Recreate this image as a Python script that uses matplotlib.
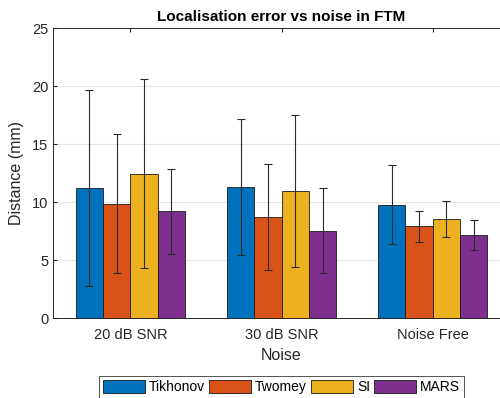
import matplotlib.pyplot as plt
import numpy as np

plt.rcParams['font.family'] = ['Liberation Sans', 'DejaVu Sans']

groups = ['20 dB SNR', '30 dB SNR', 'Noise Free']
methods = ['Tikhonov', 'Twomey', 'SI', 'MARS']
colors = ['#0072BD', '#D95319', '#EDB120', '#7E2F8E']

# mean localisation error (mm) per method, one value per noise level
means = {
    'Tikhonov': [11.25, 11.3, 9.8],
    'Twomey':   [9.9, 8.73, 7.93],
    'SI':       [12.45, 11.0, 8.6],
    'MARS':     [9.25, 7.55, 7.18],
}
# error bar ends
err_low = {
    'Tikhonov': [2.8, 5.43, 6.38],
    'Twomey':   [3.88, 4.14, 6.55],
    'SI':       [4.34, 4.39, 6.98],
    'MARS':     [5.57, 3.88, 5.86],
}
err_high = {
    'Tikhonov': [19.72, 17.15, 13.19],
    'Twomey':   [15.93, 13.3, 9.28],
    'SI':       [20.6, 17.55, 10.14],
    'MARS':     [12.9, 11.23, 8.5],
}

fig = plt.figure(figsize=(5, 3.98), dpi=100)
ax = fig.add_axes([0.1066, 0.2, 0.913, 0.729])

x = np.arange(1, len(groups) + 1)
width = 0.181
offsets = [-1.5, -0.5, 0.5, 1.5]
for m, c, off in zip(methods, colors, offsets):
    vals = np.array(means[m])
    lo = vals - np.array(err_low[m])
    hi = np.array(err_high[m]) - vals
    ax.bar(x + off * width, vals, width, color=c, edgecolor='#1a1a1a',
           linewidth=0.6, label=m, zorder=2)
    ax.errorbar(x + off * width, vals, yerr=[lo, hi], fmt='none',
                ecolor='#2b2b2b', elinewidth=0.8, capsize=3.2, capthick=0.8,
                zorder=3)

ax.set_xlim(0.49, 3.51)
ax.set_ylim(0, 25)
ax.set_yticks([0, 5, 10, 15, 20, 25])
ax.set_xticks(x)
ax.set_xticklabels(groups)
ax.yaxis.grid(True, color='#e6e6e6', linewidth=0.8, zorder=0)
ax.set_axisbelow(True)
ax.tick_params(direction='in', length=3, colors='#262626', labelsize=10.5,
               top=True)
ax.tick_params(axis='x', pad=7)
for s in ax.spines.values():
    s.set_color('#262626')
    s.set_linewidth(0.7)
ax.spines['right'].set_visible(False)

ax.set_title('Localisation error vs noise in FTM', fontsize=11, fontweight='bold',
             pad=5)
ax.set_xlabel('Noise', fontsize=11.5, color='#262626', labelpad=4)
ax.set_ylabel('Distance (mm)', fontsize=11.5, color='#262626', labelpad=6)

leg = fig.legend(loc='lower center', bbox_to_anchor=(0.563, -0.018), ncol=4,
                 fontsize=10, frameon=True, fancybox=False, handlelength=3.0,
                 handleheight=1.0, handletextpad=0.3, columnspacing=0.3,
                 borderpad=0.3)
leg.get_frame().set_edgecolor('#262626')
leg.get_frame().set_linewidth(0.7)

fig.savefig('out.png', dpi=100)
